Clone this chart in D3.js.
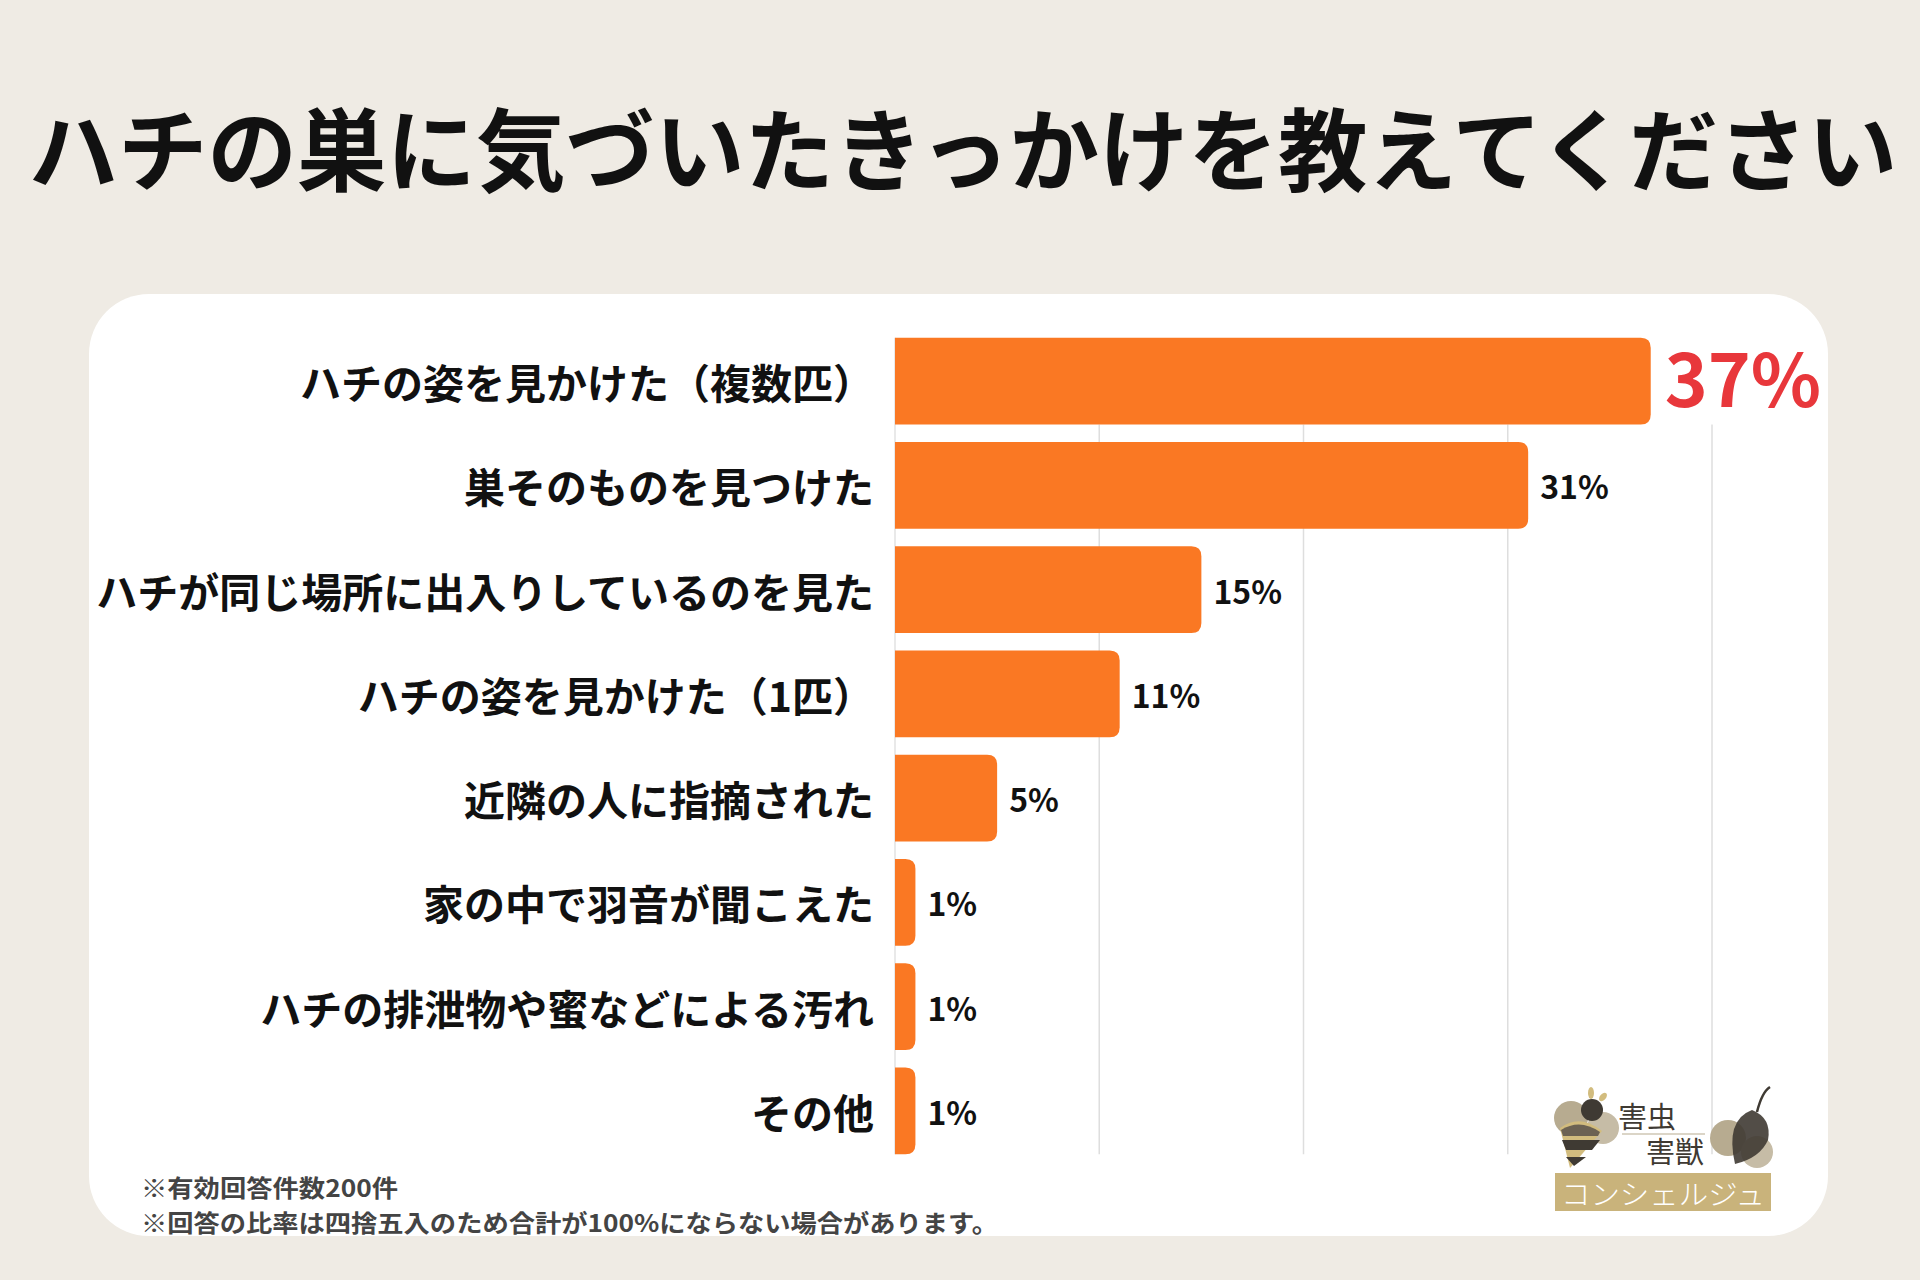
<!DOCTYPE html>
<html lang="ja">
<head>
<meta charset="utf-8">
<script src="https://cdn.jsdelivr.net/npm/d3@7"></script>
<style>
  html, body { margin: 0; padding: 0; background: #EFEBE4; }
  svg { display: block; }
  text { font-family: "Noto Sans CJK JP", "Noto Sans", sans-serif; }
</style>
</head>
<body>
<svg id="chart" width="1920" height="1280"></svg>
<script>
const title = "ハチの巣に気づいたきっかけを教えてください";
const categories = [
  "ハチの姿を見かけた（複数匹）",
  "巣そのものを見つけた",
  "ハチが同じ場所に出入りしているのを見た",
  "ハチの姿を見かけた（1匹）",
  "近隣の人に指摘された",
  "家の中で羽音が聞こえた",
  "ハチの排泄物や蜜などによる汚れ",
  "その他"
];
const values = [37, 31, 15, 11, 5, 1, 1, 1];
const gridTicks = [10, 20, 30, 40];
const notes = [
  "※有効回答件数200件",
  "※回答の比率は四捨五入のため合計が100%にならない場合があります。"
];
const logoTop = ["害虫", "害獣"];
const logoBand = "コンシェルジュ";

const svg = d3.select("#chart");

// background
svg.append("rect").attr("width", 1920).attr("height", 1280).attr("fill", "#EFEBE4");

// title
svg.append("text")
  .attr("x", 963).attr("y", 184)
  .attr("text-anchor", "middle")
  .attr("font-size", 89.5).attr("font-weight", 700).attr("fill", "#111")
  .text(title);

// card
svg.append("rect")
  .attr("x", 89).attr("y", 294).attr("width", 1739).attr("height", 942)
  .attr("rx", 60).attr("ry", 60).attr("fill", "#FFFFFF");

// scales
const x = d3.scaleLinear().domain([0, 40]).range([895, 1712]);
const y = d3.scaleBand().domain(categories).range([329, 1163]).paddingInner(0.17).paddingOuter(0.085);
const bw = y.bandwidth();

// gridlines
const g = svg.append("g");
g.selectAll("line.grid").data(gridTicks).join("line")
  .attr("class", "grid")
  .attr("x1", d => x(d)).attr("x2", d => x(d))
  .attr("y1", y(categories[0]) + bw).attr("y2", y(categories[categories.length - 1]) + bw)
  .attr("stroke", "#DEDEDE").attr("stroke-width", 1.5);
// axis line
g.append("line")
  .attr("x1", x(0)).attr("x2", x(0))
  .attr("y1", y(categories[0])).attr("y2", y(categories[categories.length - 1]) + bw)
  .attr("stroke", "#E2E2E2").attr("stroke-width", 1.5);

// bars (square left, rounded right)
const r = 10;
function barPath(d, i) {
  const x0 = x(0), x1 = x(d), y0 = y(categories[i]), h = bw;
  const rr = Math.min(r, (x1 - x0));
  return `M${x0},${y0} H${x1 - rr} Q${x1},${y0} ${x1},${y0 + rr} V${y0 + h - rr} Q${x1},${y0 + h} ${x1 - rr},${y0 + h} H${x0} Z`;
}
g.selectAll("path.bar").data(values).join("path")
  .attr("class", "bar")
  .attr("d", barPath)
  .attr("fill", "#FA7823");

// category labels
g.selectAll("text.cat").data(categories).join("text")
  .attr("class", "cat")
  .attr("x", 874).attr("y", d => y(d) + bw / 2)
  .attr("text-anchor", "end").attr("dominant-baseline", "central")
  .attr("font-size", 41).attr("font-weight", 700).attr("fill", "#111")
  .text(d => d);

// value labels
g.selectAll("text.val").data(values).join("text")
  .attr("class", "val")
  .attr("x", (d, i) => x(d) + (i === 0 ? 14 : 12))
  .attr("y", (d, i) => y(categories[i]) + bw / 2 + (i === 0 ? -6 : 0))
  .attr("dominant-baseline", "central")
  .attr("font-size", (d, i) => i === 0 ? 73 : 32)
  .attr("font-weight", 700)
  .attr("fill", (d, i) => i === 0 ? "#E8373B" : "#111")
  .text(d => d + "%");

// notes
const noteWidths = [257, 857];
svg.selectAll("text.note").data(notes).join("text")
  .attr("class", "note")
  .attr("x", 141).attr("y", (d, i) => 1186 + i * 35)
  .attr("dominant-baseline", "central")
  .attr("font-size", 24).attr("font-weight", 700).attr("fill", "#444")
  .attr("textLength", (d, i) => noteWidths[i]).attr("lengthAdjust", "spacingAndGlyphs")
  .text(d => d);

// logo (simplified)
const L = svg.append("g");
// bee
L.append("circle").attr("cx", 1571).attr("cy", 1118).attr("r", 17).attr("fill", "#B7AB90");
L.append("circle").attr("cx", 1603).attr("cy", 1128).attr("r", 16).attr("fill", "#C6BCA6");
L.append("path").attr("d", "M1560,1128 Q1580,1113 1602,1131 L1570,1168 Z").attr("fill", "#D2BC7E");
L.append("path").attr("d", "M1562,1140 L1600,1140 L1592,1150 L1566,1150 Z").attr("fill", "#3F3A33");
L.append("path").attr("d", "M1566,1157 L1586,1157 L1574,1166 Z").attr("fill", "#3F3A33");
L.append("path").attr("d", "M1561,1130 Q1580,1118 1600,1132 L1598,1136 L1563,1136 Z").attr("fill", "#6C6253");
L.append("circle").attr("cx", 1592).attr("cy", 1110).attr("r", 11).attr("fill", "#3F3A33");
L.append("ellipse").attr("cx", 1591).attr("cy", 1093).attr("rx", 3).attr("ry", 6).attr("fill", "#D2BC7E");
L.append("ellipse").attr("cx", 1603).attr("cy", 1097).attr("rx", 3).attr("ry", 5).attr("fill", "#D2BC7E").attr("transform", "rotate(40,1603,1097)");
// mouse
L.append("circle").attr("cx", 1728).attr("cy", 1138).attr("r", 18).attr("fill", "#B7AB90");
L.append("circle").attr("cx", 1757).attr("cy", 1152).attr("r", 16).attr("fill", "#C6BCA6");
L.append("path").attr("d", "M1735,1164 Q1725,1120 1752,1110 Q1772,1118 1768,1140 Q1760,1158 1735,1164 Z").attr("fill", "#3F3A33").attr("opacity", 0.9);
L.append("path").attr("d", "M1757,1112 Q1762,1092 1770,1087").attr("fill", "none").attr("stroke", "#3F3A33").attr("stroke-width", 2.5);
// text
L.selectAll("text.lt").data(logoTop).join("text")
  .attr("class", "lt")
  .attr("x", (d, i) => i === 0 ? 1618 : 1646)
  .attr("y", (d, i) => i === 0 ? 1128 : 1163)
  .attr("font-size", 29).attr("font-weight", 400).attr("fill", "#3F3A33")
  .text(d => d);
L.append("line").attr("x1", 1622).attr("x2", 1705).attr("y1", 1134).attr("y2", 1134)
  .attr("stroke", "#B7AB90").attr("stroke-width", 1.2);
L.append("rect").attr("x", 1555).attr("y", 1173).attr("width", 216).attr("height", 38).attr("fill", "#C9B37B");
L.append("text").attr("x", 1663).attr("y", 1193)
  .attr("text-anchor", "middle").attr("dominant-baseline", "central")
  .attr("font-size", 28).attr("font-weight", 300).attr("fill", "#FFFFFF")
  .attr("textLength", 204).attr("lengthAdjust", "spacingAndGlyphs")
  .text(logoBand);
</script>
</body>
</html>
